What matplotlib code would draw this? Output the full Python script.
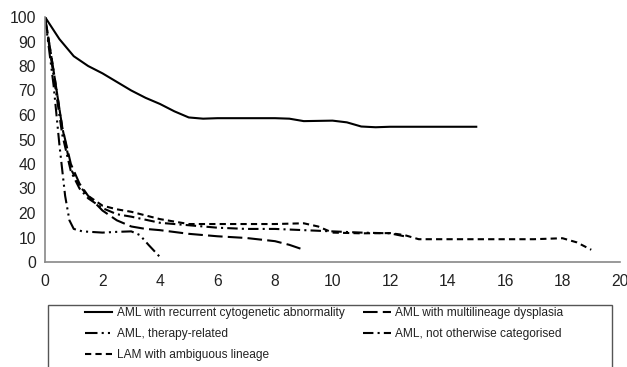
import matplotlib
matplotlib.use("Agg")
import matplotlib.pyplot as plt
from matplotlib import font_manager
from matplotlib.patches import Rectangle

plt.rcParams['font.family'] = ['Liberation Sans', 'DejaVu Sans']

# Data
rec_x = [0, 0.5, 1, 1.5, 2, 2.5, 3, 3.5, 4, 4.5, 5, 5.5, 6, 7, 8, 8.5, 9, 10, 10.5, 11, 11.5, 12, 13, 14, 15]
rec_y = [100, 91, 84, 80, 77, 73.5, 70, 67, 64.5, 61.5, 59, 58.5, 58.7, 58.7, 58.7, 58.5, 57.5, 57.7, 57, 55.3, 55, 55.2, 55.2, 55.2, 55.2]

mld_x = [0, 0.3, 0.6, 0.9, 1.2, 1.5, 2, 2.5, 3, 3.5, 4, 5, 6, 7, 8, 8.5, 9]
mld_y = [100, 78, 55, 40, 32, 27, 21, 17, 14.5, 13.5, 13, 11.5, 10.5, 9.8, 8.5, 7, 5]

tr_x = [0, 0.3, 0.5, 0.7, 0.85, 1, 1.3, 2, 2.5, 3, 3.3, 3.6, 4]
tr_y = [100, 72, 48, 27, 17, 13.5, 12.5, 12, 12.3, 12.5, 11, 7, 2]

noc_x = [0, 0.3, 0.6, 0.9, 1.2, 1.5, 2, 2.5, 3, 4, 5, 6, 7, 8, 9, 10, 11, 12, 12.5]
noc_y = [100, 76, 52, 37, 30, 26, 22, 19.5, 18.5, 16, 15, 14, 13.5, 13.5, 13, 12.5, 12, 11.7, 10.5]

lam_x = [0, 0.3, 0.6, 0.9, 1.2, 1.5, 2, 2.5, 3, 3.5, 4, 5, 6, 7, 8, 9, 9.5, 10, 11, 12, 12.5, 13, 14, 16, 17, 18, 18.5, 19]
lam_y = [100, 78, 55, 38, 31, 27, 23, 21.5, 20.5, 19, 17.5, 15.5, 15.5, 15.5, 15.5, 15.8, 14.5, 12, 11.7, 11.8, 11, 9.3, 9.3, 9.3, 9.3, 9.7, 8, 5]

labels = ["AML with recurrent cytogenetic abnormality", "AML with multilineage dysplasia",
          "AML, therapy-related", "AML, not otherwise categorised",
          "LAM with ambiguous lineage"]

x_ticks = list(range(0, 21, 2))
y_ticks = list(range(0, 101, 10))

W, H = 627, 367
fig = plt.figure(figsize=(W / 100, H / 100), dpi=100)
ax = fig.add_axes([45 / W, 1 - 262 / H, 575 / W, 245 / H])

lw = 1.5
l1, = ax.plot(rec_x, rec_y, color='black', lw=lw, ls='-')
l2, = ax.plot(mld_x, mld_y, color='black', lw=lw, ls=(0, (7, 2.5)))
l3, = ax.plot(tr_x, tr_y, color='black', lw=lw, ls=(0, (6, 2, 1, 2, 1, 2)))
l4, = ax.plot(noc_x, noc_y, color='black', lw=lw, ls=(0, (5, 2, 1, 2)))
l5, = ax.plot(lam_x, lam_y, color='black', lw=lw, ls=(0, (3, 2)))

ax.set_xlim(0, 20)
ax.set_ylim(0, 100)
ax.set_xticks(x_ticks)
ax.set_yticks(y_ticks)
ax.tick_params(length=0, colors='#222222', labelsize=11.3)
ax.tick_params(axis='x', pad=9)
ax.tick_params(axis='y', pad=6.5)
for s in ['top', 'right']:
    ax.spines[s].set_visible(False)
for s in ['left', 'bottom']:
    ax.spines[s].set_color('#888888')
    ax.spines[s].set_linewidth(1.2)

# legend frame
fig.patches.append(Rectangle((48 / W, -0.05), (612 - 48) / W, 0.05 + 1 - 305 / H,
                             transform=fig.transFigure, fill=False,
                             edgecolor='#555555', linewidth=1.0))

handles = [l1, l3, l5, l2, l4]
labs = [labels[0], labels[2], labels[4], labels[1], labels[3]]
leg = fig.legend(handles, labs, ncol=2, loc='upper left',
                 bbox_to_anchor=(85 / W, 1 - 307 / H),
                 fontsize=8.6, frameon=False,
                 handlelength=2.3, handletextpad=0.35,
                 borderpad=0, labelspacing=0.75, columnspacing=1.55,
                 borderaxespad=0)
for t in leg.get_texts():
    t.set_color('#222222')

fig.savefig("out.png", dpi=100)
